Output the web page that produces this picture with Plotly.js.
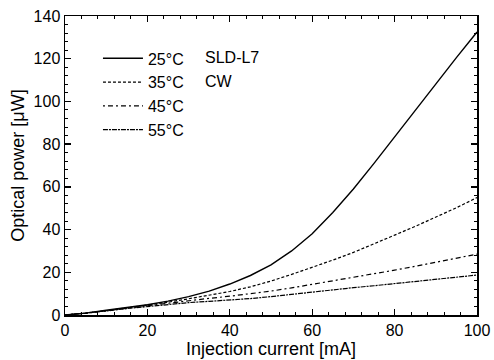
<!DOCTYPE html>
<html>
<head>
<meta charset="utf-8">
<script src="https://cdn.plot.ly/plotly-3.0.1.min.js"></script>
<style>html,body{margin:0;padding:0;background:#fff;}#chart{width:494px;height:360px;}</style>
</head>
<body>
<div id="chart"></div>
<script>
const current = [0,5,10,15,20,25,30,35,40,45,50,55,60,65,70,75,80,85,90,95,100];
const p25 = [0,0.9,2.2,3.5,4.8,6.5,8.6,11.2,14.5,18.5,23.5,30,38,48,59,71,83.5,96,108.5,120.5,132.5];
const p35 = [0,0.8,2.0,3.3,4.6,6.0,7.6,9.2,11.0,13.2,15.9,19.0,22.3,25.7,29.3,33.2,37.4,41.5,45.7,50.2,55.0];
const p45 = [0,0.8,2.0,3.2,4.4,5.6,6.8,7.8,8.8,9.9,11.2,12.7,14.3,15.9,17.5,19.2,21.0,22.8,24.6,26.5,28.5];
const p55 = [0,0.8,1.9,3.0,4.0,5.0,5.8,6.4,7.0,7.7,8.6,9.7,10.8,11.8,12.8,13.7,14.7,15.7,16.6,17.6,18.7];
const seriesNames = ['25°C','35°C','45°C','55°C'];
const xTicks = [0,20,40,60,80,100];
const yTicks = [0,20,40,60,80,100,120,140];

const FONT = '"Liberation Sans", Arial, Helvetica, sans-serif';
const dashes = ['solid','3px,2px','2px,3px,5px,3px','5px,1px,2px,1px'];
const ys = [p25,p35,p45,p55];
const traces = ys.map((y,i)=>({
  x: current, y: y, type:'scatter', mode:'lines', name: seriesNames[i],
  line:{color:'#000', width: i===0?1.4:1.2, dash: dashes[i], shape:'linear'}
}));

const axisCommon = {
  showline:true, linecolor:'#000', linewidth:1.5, mirror:'ticks',
  ticks:'inside', ticklen:6, tickwidth:1.3, tickcolor:'#000',
  showgrid:false, zeroline:false,
  tickfont:{family:FONT, size:16, color:'#000'},
  minor:{dtick:4, ticks:'inside', ticklen:3, tickwidth:1, tickcolor:'#000'}
};

const layout = {
  width:494, height:360,
  margin:{l:65, r:17, t:16, b:45},
  paper_bgcolor:'#fff', plot_bgcolor:'#fff',
  showlegend:true,
  legend:{x:0.08, y:0.915, xanchor:'left', yanchor:'top', bgcolor:'rgba(0,0,0,0)',
          font:{family:FONT, size:16, color:'#000'}, itemwidth:40, tracegroupgap:0},
  xaxis:Object.assign({}, axisCommon, {range:[0,100], tickvals:xTicks, ticktext:xTicks.map(String),
    title:{text:'Injection current [mA]', font:{family:FONT, size:18, color:'#000'}, standoff:0}}),
  yaxis:Object.assign({}, axisCommon, {range:[0,140], tickvals:yTicks, ticktext:yTicks.map(String),
    title:{text:'Optical power [μW]', font:{family:FONT, size:18, color:'#000'}, standoff:4}}),
  annotations:[
    {xref:'paper', yref:'paper', x:0.335, y:0.86, xanchor:'left', yanchor:'middle', showarrow:false,
     text:'SLD-L7', font:{family:FONT, size:16, color:'#000'}},
    {xref:'paper', yref:'paper', x:0.335, y:0.78, xanchor:'left', yanchor:'middle', showarrow:false,
     text:'CW', font:{family:FONT, size:16, color:'#000'}}
  ]
};
Plotly.newPlot('chart', traces, layout, {displayModeBar:false, staticPlot:true});
</script>
</body>
</html>
